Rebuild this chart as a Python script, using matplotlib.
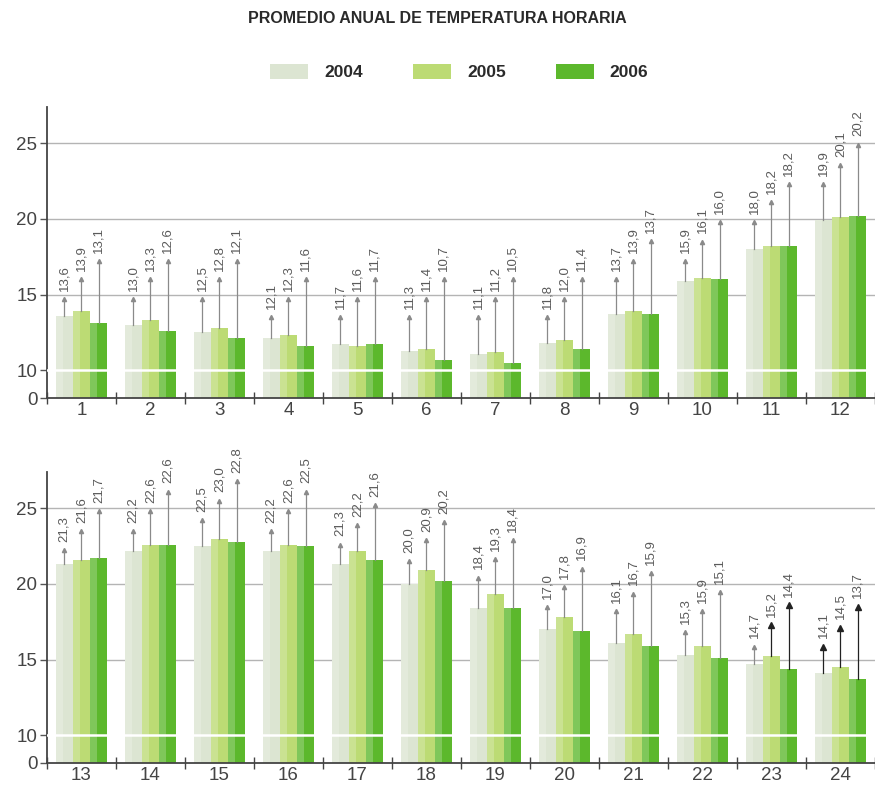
import numpy as np
import matplotlib
matplotlib.use('Agg')
import matplotlib.pyplot as plt
from matplotlib.patches import Patch

plt.rcParams['font.family'] = ['Liberation Sans', 'DejaVu Sans']

# Hourly mean temperature per year
hours = list(range(1, 25))
years = ['2004', '2005', '2006']
v2004 = [13.6, 13.0, 12.5, 12.1, 11.7, 11.3, 11.1, 11.8, 13.7, 15.9, 18.0, 19.9,
         21.3, 22.2, 22.5, 22.2, 21.3, 20.0, 18.4, 17.0, 16.1, 15.3, 14.7, 14.1]
v2005 = [13.9, 13.3, 12.8, 12.3, 11.6, 11.4, 11.2, 12.0, 13.9, 16.1, 18.2, 20.1,
         21.6, 22.6, 23.0, 22.6, 22.2, 20.9, 19.3, 17.8, 16.7, 15.9, 15.2, 14.5]
v2006 = [13.1, 12.6, 12.1, 11.6, 11.7, 10.7, 10.5, 11.4, 13.7, 16.0, 18.2, 20.2,
         21.7, 22.6, 22.8, 22.5, 21.6, 20.2, 18.4, 16.9, 15.9, 15.1, 14.4, 13.7]

# upper ends of the whiskers (label leaders)
t2004 = [14.7, 14.7, 14.7, 13.5, 13.5, 13.5, 13.5, 13.5, 16.0, 17.2, 19.8, 22.3,
         22.25, 23.5, 24.2, 23.5, 22.6, 21.5, 20.4, 18.45, 18.2, 16.8, 15.85, 15.85]
t2005 = [16.0, 16.0, 16.0, 14.7, 14.7, 14.7, 14.7, 14.7, 17.2, 18.5, 21.1, 23.55,
         23.5, 24.8, 25.5, 24.8, 23.9, 22.9, 21.65, 19.8, 19.35, 18.2, 17.25, 17.1]
t2006 = [17.2, 17.2, 17.2, 16.0, 16.0, 16.0, 16.0, 16.0, 18.55, 19.8, 22.3, 24.9,
         24.8, 26.1, 26.8, 26.1, 25.2, 24.1, 22.9, 21.0, 20.7, 19.45, 18.6, 18.5]

values = [v2004, v2005, v2006]
tops = [t2004, t2005, t2006]
colors = ['#dce5d2', '#bcdb74', '#5cb82c']
dark_marks = {(23, 1), (23, 2), (24, 0), (24, 1), (24, 2)}


# broken axis: 0-10 squeezed
def fwd(y):
    y = np.asarray(y, dtype=float)
    return np.where(y < 10, y * 0.184, y - 8.16)


def inv(y):
    y = np.asarray(y, dtype=float)
    return np.where(y < 1.84, y / 0.184, y + 8.16)


fig = plt.figure(figsize=(8.75, 7.9), dpi=100)
ax_top = fig.add_axes([0.0537, 0.4962, 0.9463, 0.3684])
ax_bot = fig.add_axes([0.0537, 0.0342, 0.9463, 0.3684])

w = 0.25
for ax, start in [(ax_top, 0), (ax_bot, 12)]:
    ax.set_yscale('function', functions=(fwd, inv))
    ax.set_ylim(0, 27.4)
    ax.set_xlim(0, 12)
    x = np.arange(12) + 0.5
    for k in range(3):
        vals = values[k][start:start + 12]
        tp = tops[k][start:start + 12]
        xs = x + (k - 1) * w
        ax.bar(xs, vals, width=w, color=colors[k], zorder=2)
        # lighter left side of each bar
        ax.bar(xs - w * 0.3, vals, width=w * 0.4, color='white', alpha=0.22,
               zorder=2.1, linewidth=0)
        for i in range(12):
            h = start + i + 1
            dark = (h, k) in dark_marks
            c = '#222222' if dark else '#8a8a8a'
            ax.plot([xs[i], xs[i]], [vals[i], tp[i]], color=c, lw=0.9, zorder=4)
            ax.plot(xs[i], tp[i], marker='^', ms=4.5 if dark else 3, color=c,
                    zorder=4, clip_on=False)
            ax.annotate(f'{vals[i]:.1f}'.replace('.', ','), (xs[i], tp[i]),
                        xytext=(0, 6), textcoords='offset points',
                        rotation=90, ha='center', va='bottom', fontsize=9.5,
                        color='#5a5a5a', annotation_clip=False)

    for yv in [15, 20, 25]:
        ax.axhline(yv, color='#b4b4b4', lw=1, zorder=1)
    ax.axhline(10, color='white', lw=1.8, zorder=3)

    ax.set_yticks([0, 10, 15, 20, 25])
    ax.set_yticklabels(['0', '10', '15', '20', '25'])
    ax.tick_params(axis='y', direction='out', length=5, width=1, color='#555555',
                   labelsize=13.5, labelcolor='#444444', pad=2)
    ax.set_xticks(np.arange(0, 13))
    ax.set_xticklabels([])
    ax.set_xticks(x, minor=True)
    ax.set_xticklabels([str(h) for h in hours[start:start + 12]], minor=True)
    ax.tick_params(axis='x', which='major', direction='inout', length=8, width=1,
                   color='#444444')
    ax.tick_params(axis='x', which='minor', length=0, labelsize=13.5,
                   labelcolor='#444444', pad=3)

    for s in ['top', 'right']:
        ax.spines[s].set_visible(False)
    ax.spines['left'].set_color('#444444')
    ax.spines['bottom'].set_color('#444444')
    ax.spines['left'].set_linewidth(1.3)
    ax.spines['bottom'].set_linewidth(1.3)

fig.text(0.5, 0.977, 'PROMEDIO ANUAL DE TEMPERATURA HORARIA', ha='center',
         va='center', fontsize=11.5, fontweight='bold', color='#2a2a2a',
         family=['Liberation Sans Narrow', 'Liberation Sans', 'DejaVu Sans'])

handles = [Patch(facecolor=c, edgecolor='none') for c in colors]
leg = fig.legend(handles, years, loc='center', bbox_to_anchor=(0.525, 0.909),
                 ncol=3, frameon=False, handlelength=2.2, handleheight=0.95,
                 handletextpad=0.9, columnspacing=2.9,
                 prop={'weight': 'bold', 'size': 12.5})
for t in leg.get_texts():
    t.set_color('#2a2a2a')

fig.savefig('out.png', dpi=100)
